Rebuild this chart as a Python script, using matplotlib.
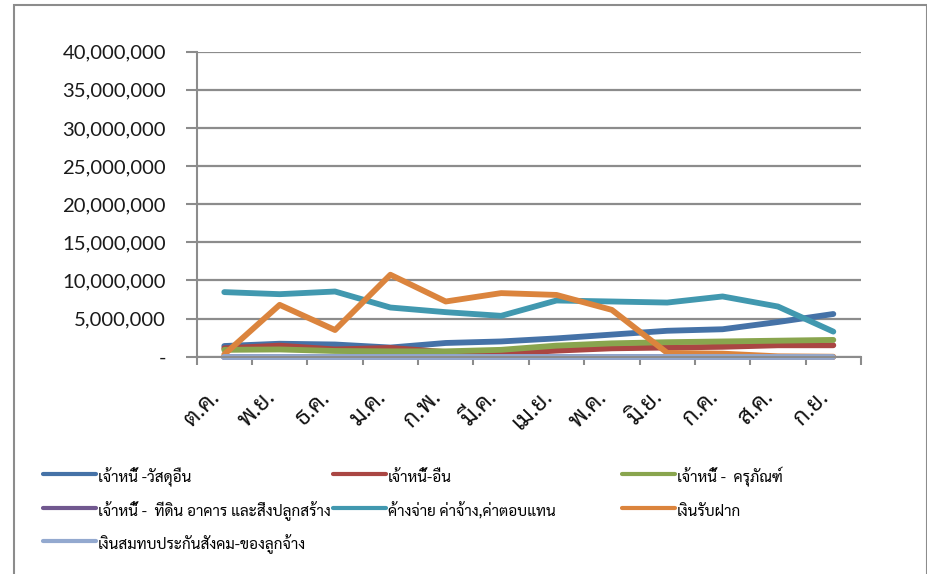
import matplotlib
matplotlib.use("Agg")
import matplotlib.pyplot as plt
from matplotlib.patches import Rectangle
from matplotlib.ticker import FuncFormatter, FixedLocator

# monthly balances (baht), fiscal year Oct - Sep
months = ['ต.ค.', 'พ.ย.', 'ธ.ค.', 'ม.ค.', 'ก.พ.', 'มี.ค.',
          'เม.ย.', 'พ.ค.', 'มิ.ย.', 'ก.ค.', 'ส.ค.', 'ก.ย.']

supplies = [1.4e6, 1.7e6, 1.6e6, 1.2e6, 1.8e6, 2.0e6, 2.4e6, 2.9e6, 3.4e6, 3.6e6, 4.55e6, 5.6e6]
other = [1.1e6, 1.45e6, 0.95e6, 1.15e6, 0.6e6, 0.4e6, 0.8e6, 1.1e6, 1.2e6, 1.3e6, 1.5e6, 1.5e6]
durables = [0.9e6, 0.95e6, 0.75e6, 0.7e6, 0.7e6, 0.9e6, 1.45e6, 1.75e6, 1.9e6, 2.0e6, 2.1e6, 2.2e6]
land = [0, 0, 0, 0, 0, 0, 0, 0, 0, 0, 0, 0]
accrued = [8.47e6, 8.2e6, 8.55e6, 6.45e6, 5.84e6, 5.36e6, 7.37e6, 7.24e6, 7.1e6, 7.9e6, 6.58e6, 3.29e6]
deposits = [0.3e6, 6.8e6, 3.5e6, 10.75e6, 7.24e6, 8.34e6, 8.1e6, 6.14e6, 0.5e6, 0.4e6, 0.05e6, 0]
social = [0, 0, 0, 0, 0, 0, 0, 0, 0, 0, 0, 0]

labels = ['เจ้าหนี้ -วัสดุอื่น', 'เจ้าหนี้-อื่น', 'เจ้าหนี้ -  ครุภัณฑ์',
          'เจ้าหนี้ -  ที่ดิน อาคาร และสิ่งปลูกสร้าง', 'ค้างจ่าย ค่าจ้าง,ค่าตอบแทน',
          'เงินรับฝาก', 'เงินสมทบประกันสังคม-ของลูกจ้าง']
series = [supplies, other, durables, land, accrued, deposits, social]
colors = ['#4572A7', '#AA4643', '#89A54E', '#71588F', '#4198AF', '#DB843D', '#93A9CF']

thai = ['Sarabun', 'DejaVu Sans']
grid_gray = '#8c8c8c'
W, H = 928, 574

fig = plt.figure(figsize=(W / 100, H / 100), dpi=100)
fig.patches.append(Rectangle((14 / W, -0.02), 913 / W, 1.02 - 5 / H,
                             transform=fig.transFigure, fill=False,
                             edgecolor=grid_gray, linewidth=1.5))

ax = fig.add_axes([196.6 / W, 1 - 356.7 / H, (861 - 196.6) / W, 305 / H])
x = list(range(len(months)))
lines = []
for vals, lab, col in zip(series, labels, colors):
    ln, = ax.plot(x, vals, color=col, linewidth=4.2, label=lab,
                  solid_joinstyle='round', solid_capstyle='round', clip_on=False)
    lines.append(ln)

ax.set_xlim(-0.5, len(months) - 0.5)
ax.set_ylim(0, 40e6)
ax.set_yticks(range(0, 40000001, 5000000))
ax.yaxis.set_major_formatter(FuncFormatter(lambda v, p: '-' if v == 0 else f'{v:,.0f}'))
ax.yaxis.grid(True, color=grid_gray, linewidth=1.6)
ax.set_axisbelow(True)

ax.xaxis.set_major_locator(FixedLocator([i - 0.5 for i in range(len(months) + 1)]))
ax.xaxis.set_major_formatter(FuncFormatter(lambda v, p: ''))
ax.xaxis.set_minor_locator(FixedLocator(x))
ax.set_xticklabels(months, minor=True, rotation=45, ha='right', va='top',
                   family=thai, fontsize=17, color='#111111')
ax.tick_params(axis='x', which='minor', length=0, pad=21)
ax.tick_params(axis='x', which='major', length=6, width=1.5, color=grid_gray)
ax.tick_params(axis='y', length=8, width=1.5, color=grid_gray, pad=14,
               labelsize=14.6, labelcolor='#1a1a1a')
for t in ax.get_yticklabels():
    t.set_family('Lato')

for s in ['top', 'right']:
    ax.spines[s].set_visible(False)
for s in ['left', 'bottom']:
    ax.spines[s].set_color(grid_gray)
    ax.spines[s].set_linewidth(1.5)

# legend entries in three columns, like the Excel layout
col_x = [43, 333, 622]
row_y = [477.5, 511.5, 544.5]
for i, (ln, lab) in enumerate(zip(lines, labels)):
    r, c = divmod(i, 3)
    leg = fig.legend([ln], [lab], loc='center left',
                     bbox_to_anchor=(col_x[c] / W, 1 - row_y[r] / H),
                     frameon=False, prop={'family': 'Sarabun', 'size': 11},
                     handlelength=3.5, handleheight=1.9, handletextpad=0.1,
                     borderaxespad=0, borderpad=0)
    for h in leg.legend_handles:
        h.set_linewidth(3.0)

fig.savefig('out.png', dpi=100)
